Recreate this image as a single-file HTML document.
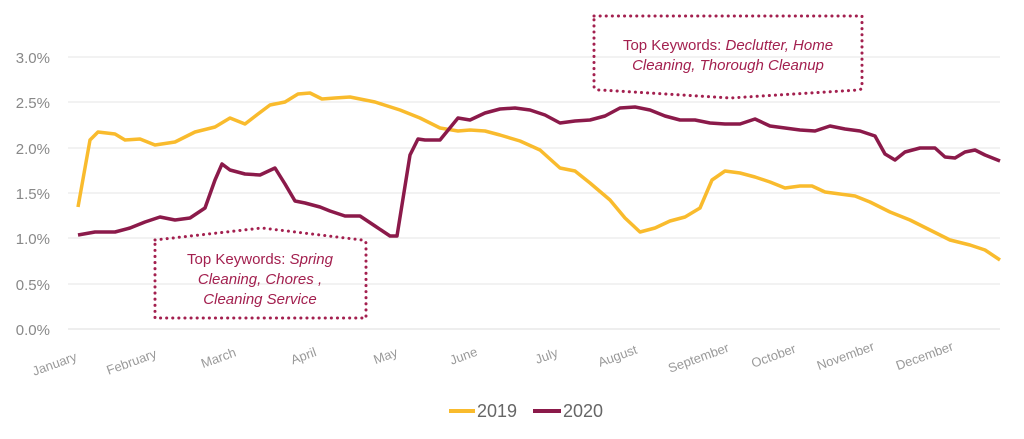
<!DOCTYPE html><html><head><style>body{margin:0;background:#fff}</style></head><body>
<svg width="1024" height="434" xmlns="http://www.w3.org/2000/svg" font-family="Liberation Sans, sans-serif">
<g stroke="#e6e6e6" stroke-width="1">
<line x1="68" x2="1000" y1="57" y2="57"/><line x1="68" x2="1000" y1="102" y2="102"/><line x1="68" x2="1000" y1="148" y2="148"/><line x1="68" x2="1000" y1="193" y2="193"/><line x1="68" x2="1000" y1="238" y2="238"/><line x1="68" x2="1000" y1="284" y2="284"/><line x1="68" x2="1000" y1="329" y2="329" stroke="#ddd"/></g>
<g fill="#888" font-size="15" text-anchor="end">
<text x="50" y="63">3.0%</text><text x="50" y="108">2.5%</text><text x="50" y="154">2.0%</text><text x="50" y="199">1.5%</text><text x="50" y="244">1.0%</text><text x="50" y="290">0.5%</text><text x="50" y="335">0.0%</text></g>
<g fill="#999" font-size="13" text-anchor="middle">
<text transform="translate(56,368) rotate(-20)">January</text>
<text transform="translate(133,366) rotate(-20)">February</text>
<text transform="translate(220,362) rotate(-20)">March</text>
<text transform="translate(305,360) rotate(-20)">April</text>
<text transform="translate(387,360) rotate(-20)">May</text>
<text transform="translate(465,360) rotate(-20)">June</text>
<text transform="translate(548,360) rotate(-20)">July</text>
<text transform="translate(619,360) rotate(-20)">August</text>
<text transform="translate(700,362) rotate(-20)">September</text>
<text transform="translate(775,360) rotate(-20)">October</text>
<text transform="translate(847,360) rotate(-20)">November</text>
<text transform="translate(926,360) rotate(-20)">December</text></g>
<polyline fill="none" stroke="#F9BB2D" stroke-width="3.5" stroke-linejoin="round" points="78,207 90,140 98,132 115,134 125,140 140,139 155,145 175,142 195,132 215,127 230,118 245,124 258,114 270,105 285,102 298,94 310,93 322,99 335,98 350,97 375,102 400,110 420,118 440,128 458,131 470,130 485,131 500,135 520,141 540,150 560,168 575,171 590,183 610,200 625,218 640,232 655,228 670,221 685,217 700,208 712,180 725,171 740,173 755,177 770,182 785,188 800,186 812,186 825,192 840,194 855,196 870,202 890,212 910,220 930,230 950,240 970,245 985,250 1000,260"/>
<polyline fill="none" stroke="#8B1A4A" stroke-width="3.5" stroke-linejoin="round" points="78,235 95,232 115,232 130,228 145,222 160,217 175,220 190,218 205,208 215,180 222,164 230,170 245,174 260,175 275,168 285,184 295,201 305,203 320,207 330,211 345,216 360,216 375,226 390,236 397,236 410,155 418,139 425,140 440,140 458,118 470,120 485,113 500,109 515,108 530,110 545,115 560,123 575,121 590,120 605,116 620,108 635,107 650,110 665,116 680,120 695,120 710,123 725,124 740,124 755,119 770,126 785,128 800,130 815,131 830,126 845,129 860,131 875,136 885,154 895,160 905,152 920,148 935,148 945,157 955,158 965,152 975,150 985,155 1000,161"/>
<g fill="none" stroke="#A3204F" stroke-width="3" stroke-dasharray="0.1 6" stroke-linecap="round">
<path d="M594,16 H862 V86 Q862,90 858,90 L730,98 L600,90 Q594,90 594,86 Z"/>
<path d="M155,240 L262,228 L362,240 Q366,240 366,244 V318 H155 Z"/></g>
<g fill="#A3204F" font-size="15" text-anchor="middle">
<text x="728" y="50">Top Keywords: <tspan font-style="italic">Declutter, Home</tspan></text>
<text x="728" y="70" font-style="italic">Cleaning, Thorough Cleanup</text>
<text x="260" y="264">Top Keywords: <tspan font-style="italic">Spring</tspan></text>
<text x="260" y="284" font-style="italic">Cleaning, Chores ,</text>
<text x="260" y="304" font-style="italic">Cleaning Service</text></g>
<line x1="449" x2="475" y1="411" y2="411" stroke="#F9BB2D" stroke-width="4"/>
<text x="477" y="417" font-size="18" fill="#666">2019</text>
<line x1="533" x2="561" y1="411" y2="411" stroke="#8B1A4A" stroke-width="4"/>
<text x="563" y="417" font-size="18" fill="#666">2020</text>
</svg></body></html>
